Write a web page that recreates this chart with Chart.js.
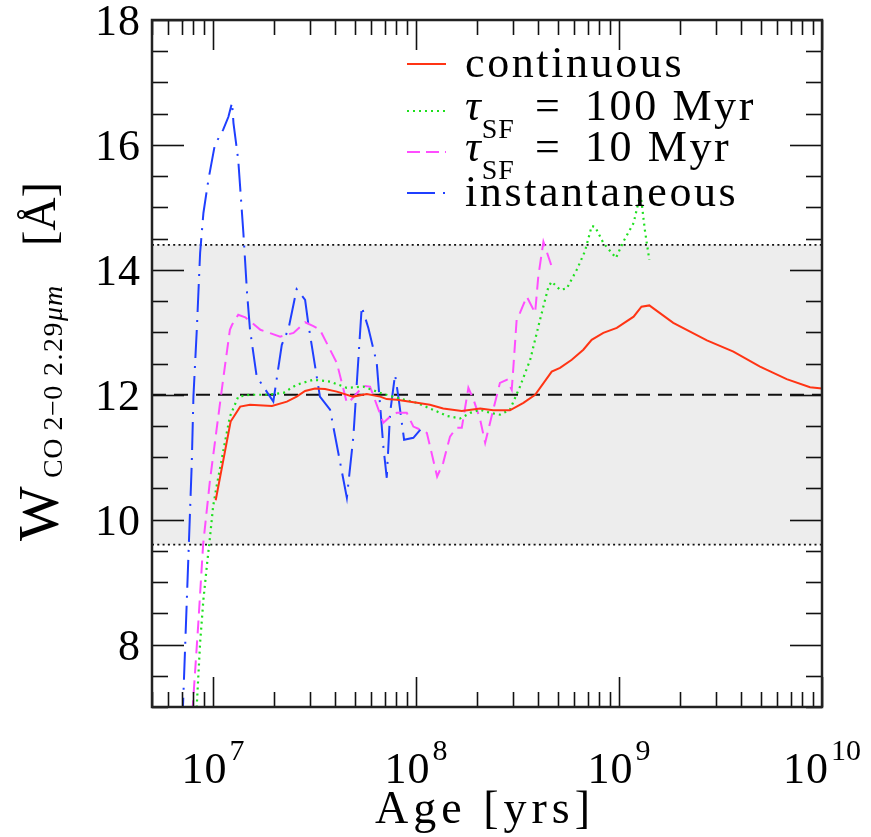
<!DOCTYPE html>
<html><head><meta charset="utf-8">
<script src="https://cdn.jsdelivr.net/npm/chart.js"></script>
<style>html,body{margin:0;padding:0;background:#fff;}#wrap{width:871px;height:837px;}</style>
</head><body><div id="wrap"><canvas id="c" width="871" height="837"></canvas></div>
<script>
// ---- data (age in yr, W in Angstrom) ----
const continuousAge = [1.03e7,1.22e7,1.36e7,1.52e7,1.95e7,2.31e7,2.58e7,2.84e7,3.18e7,3.56e7,4.07e7,4.89e7,5.72e7,6.65e7,7.17e7,8.04e7,1.01e8,1.17e8,1.36e8,1.68e8,2.07e8,2.40e8,2.90e8,3.38e8,3.86e8,4.66e8,5.12e8,5.85e8,6.67e8,7.33e8,8.37e8,9.75e8,1.18e9,1.29e9,1.41e9,1.85e9,2.71e9,3.66e9,4.95e9,6.70e9,8.73e9,1.0e10];
const continuousW   = [10.31,11.57,11.81,11.84,11.82,11.89,11.97,12.06,12.10,12.09,12.05,11.97,12.01,11.97,11.93,11.92,11.87,11.84,11.78,11.74,11.78,11.75,11.75,11.87,12.00,12.37,12.43,12.56,12.72,12.88,12.99,13.07,13.25,13.41,13.43,13.15,12.87,12.69,12.45,12.25,12.12,12.10];

const tau100Age = [8.25e6,8.32e6,8.63e6,8.96e6,9.31e6,9.66e6,1.0e7,1.04e7,1.15e7,1.21e7,1.33e7,1.52e7,1.84e7,2.22e7,2.58e7,3.12e7,3.77e7,4.56e7,5.50e7,6.65e7,8.04e7,1.01e8,1.27e8,1.42e8,1.65e8,1.85e8,2.07e8,2.32e8,2.59e8,2.90e8,3.25e8,3.65e8,4.08e8,4.49e8,4.66e8,5.12e8,5.52e8,6.19e8,6.80e8,7.33e8,7.62e8,8.37e8,9.66e8,1.05e9,1.18e9,1.27e9,1.29e9,1.34e9,1.41e9];
const tau100W   = [6.8,7.06,8.03,8.72,9.25,9.73,10.21,10.53,11.28,11.65,11.97,12.00,12.00,12.03,12.16,12.24,12.21,12.11,12.13,12.03,11.95,11.87,11.73,11.66,11.62,11.71,11.76,11.71,11.68,11.76,12.13,12.56,13.20,13.73,13.81,13.68,13.70,14.00,14.30,14.70,14.69,14.43,14.19,14.45,14.75,15.20,15.10,14.64,14.16];

const tau10Age = [7.90e6,8.44e6,8.93e6,9.66e6,1.04e7,1.12e7,1.21e7,1.24e7,1.33e7,1.44e7,1.71e7,2.14e7,2.49e7,2.84e7,3.12e7,3.36e7,4.07e7,4.56e7,4.73e7,5.50e7,5.93e7,6.90e7,7.45e7,8.04e7,9.0e7,9.70e7,1.05e8,1.13e8,1.27e8,1.36e8,1.47e8,1.58e8,1.68e8,1.81e8,1.92e8,2.07e8,2.19e8,2.40e8,2.59e8,2.80e8,2.96e8,3.01e8,3.13e8,3.25e8,3.51e8,3.86e8,4.0e8,4.24e8,4.66e8];
const tau10W   = [6.9,8.3,9.6,10.64,11.44,12.24,13.04,13.12,13.28,13.24,13.04,12.93,12.99,13.16,13.10,13.04,12.51,11.87,11.90,12.14,12.13,11.55,11.65,11.71,11.71,11.49,11.44,11.39,10.69,10.91,11.33,11.47,11.47,12.11,11.92,11.60,11.23,11.76,12.19,12.24,12.08,12.40,13.20,13.31,13.57,13.31,13.89,14.45,14.05];

const instAge = [7.05e6,7.85e6,8.0e6,8.32e6,8.63e6,8.96e6,9.48e6,1.02e7,1.12e7,1.19e7,1.24e7,1.26e7,1.33e7,1.41e7,1.47e7,1.52e7,1.64e7,1.98e7,2.18e7,2.35e7,2.58e7,2.84e7,2.95e7,3.36e7,3.77e7,4.56e7,4.91e7,5.40e7,5.82e7,6.40e7,6.90e7,7.17e7,7.45e7,7.88e7,8.18e7,8.73e7,9.70e7,1.05e8];
const instW   = [6.7,10.9,11.97,13.07,14.27,14.91,15.44,16.0,16.24,16.45,16.68,16.35,15.76,14.59,13.63,13.04,12.29,11.89,12.8,13.05,13.69,13.52,13.12,11.97,11.76,10.35,11.33,13.41,13.07,12.51,11.17,10.67,11.71,12.32,11.97,11.28,11.31,11.44];

const ageRange = [5e6, 1e10];
const wRange = [7, 18];
const bandLimits = [9.6, 14.4];
const refLevel = 12;
const xTickValues = [1e7, 1e8, 1e9, 1e10];
const xTickExponents = ['7', '8', '9', '10'];
const yTickValues = [8, 10, 12, 14, 16, 18];
const seriesNames = ['continuous', '100 Myr', '10 Myr', 'instantaneous'];
const seriesColors = ['#ff3414', '#1ee01e', '#ff4dff', '#1f3fff'];

function pts(a, w) { return a.map((x, i) => ({x: x, y: w[i]})); }
const flat = v => [{x: ageRange[0], y: v}, {x: ageRange[1], y: v}];

const FONT = '"Liberation Serif", "DejaVu Serif", serif';
function txt(ctx, s, x, y, size, o) {
  o = o || {};
  ctx.save();
  ctx.font = (o.italic ? 'italic ' : '') + size + 'px ' + FONT;
  ctx.letterSpacing = (o.ls || 0) + 'px';
  ctx.textAlign = o.align || 'left';
  ctx.textBaseline = 'alphabetic';
  ctx.fillStyle = '#000';
  ctx.fillText(s, x, y);
  const w = ctx.measureText(s).width;
  ctx.restore();
  return w;
}
function tw(ctx, s, size, o) {
  o = o || {};
  ctx.save();
  ctx.font = (o.italic ? 'italic ' : '') + size + 'px ' + FONT;
  ctx.letterSpacing = (o.ls || 0) + 'px';
  const w = ctx.measureText(s).width;
  ctx.restore();
  return w;
}
function line(ctx, x1, y1, x2, y2) { ctx.beginPath(); ctx.moveTo(x1, y1); ctx.lineTo(x2, y2); ctx.stroke(); }
function rotText(ctx, s, bx, by, size, o) {
  ctx.save();
  ctx.translate(bx, by);
  ctx.rotate(-Math.PI / 2);
  const w = txt(ctx, s, 0, 0, size, o);
  ctx.restore();
  return w;
}

const decor = {
  id: 'decor',
  afterDatasetsDraw(chart) {
    const ctx = chart.ctx, a = chart.chartArea, xs = chart.scales.x, ys = chart.scales.y;
    ctx.save();
    ctx.strokeStyle = '#111';
    ctx.lineWidth = 1.6;
    for (let e = 6; e <= 10; e++) {
      for (let m = 1; m <= 9; m++) {
        const v = m * Math.pow(10, e);
        if (v < ageRange[0] - 1 || v > ageRange[1] + 1) continue;
        const px = Math.round(xs.getPixelForValue(v)) + 0.5;
        const len = m === 1 ? 30 : 15;
        line(ctx, px, a.bottom, px, a.bottom - len);
        line(ctx, px, a.top, px, a.top + len);
      }
    }
    for (let k = 0; k <= (wRange[1] - wRange[0]) * 2; k++) {
      const v = wRange[0] + k * 0.5;
      const py = Math.round(ys.getPixelForValue(v)) + 0.5;
      const len = (v % 2 === 0) ? 32 : 16;
      line(ctx, a.left, py, a.left + len, py);
      line(ctx, a.right, py, a.right - len, py);
    }
    ctx.lineWidth = 2.5;
    ctx.strokeStyle = '#222';
    ctx.strokeRect(a.left, a.top, a.right - a.left, a.bottom - a.top);
    ctx.restore();
  },
  afterDraw(chart) {
    const ctx = chart.ctx, xs = chart.scales.x, ys = chart.scales.y;
    yTickValues.forEach(v => {
      const py = ys.getPixelForValue(v);
      txt(ctx, String(v), 141, py + 15, 44, {align: 'right', ls: 1});
    });
    xTickValues.forEach((v, i) => {
      const px = xs.getPixelForValue(v);
      const w1 = tw(ctx, '10', 44, {ls: 1});
      const w2 = tw(ctx, xTickExponents[i], 30);
      const x0 = px - (w1 + w2 + 2) / 2;
      txt(ctx, '10', x0, 783, 44, {ls: 1});
      txt(ctx, xTickExponents[i], x0 + w1 + 2, 760, 30);
    });
    txt(ctx, 'Age [yrs]', 375, 823, 46, {ls: 5});
    // y title, rotated, reading bottom to top
    rotText(ctx, 'W', 58, 541, 58);
    rotText(ctx, 'CO 2\u22120', 62, 478, 28, {ls: 0.5});
    const w229 = rotText(ctx, '2.29', 62, 376, 28, {ls: 1.5});
    rotText(ctx, '\u03bcm', 62, 376 - w229, 28, {italic: true, ls: 1});
    rotText(ctx, '[\u00c5]', 55, 246, 46);
    // legend
    const rows = [{ly: 64, by: 77}, {ly: 111, by: 120}, {ly: 152, by: 161}, {ly: 193, by: 206}];
    const dashes = [[], [2, 4], [13, 6], [28, 8, 2, 8]];
    rows.forEach((r, i) => {
      ctx.save();
      ctx.strokeStyle = seriesColors[i];
      ctx.lineWidth = 2;
      ctx.setLineDash(dashes[i]);
      line(ctx, 407, r.ly, 446, r.ly);
      ctx.restore();
      if (i === 0 || i === 3) {
        txt(ctx, seriesNames[i], 465, r.by, 44, {ls: 2.6});
      } else {
        const wt = txt(ctx, '\u03c4', 465, r.by, 44, {italic: true});
        txt(ctx, 'SF', 465 + wt + 1, r.by + 18, 28, {ls: 1});
        txt(ctx, '=', 535, r.by, 44);
        txt(ctx, seriesNames[i], 585, r.by, 44, {ls: 2.6});
      }
    });
  }
};

new Chart(document.getElementById('c'), {
  type: 'line',
  data: {
    datasets: [
      {label: 'band top', data: flat(bandLimits[1]), borderColor: '#111', borderWidth: 1.8, borderDash: [2, 3.3], fill: 1, backgroundColor: '#ededed', order: 10},
      {label: 'band bottom', data: flat(bandLimits[0]), borderColor: '#111', borderWidth: 1.8, borderDash: [2, 3.3], fill: false, order: 10},
      {label: 'reference', data: flat(refLevel), borderColor: '#111', borderWidth: 2, borderDash: [14, 8], fill: false, order: 9},
      {label: 'instantaneous', data: pts(instAge, instW), borderColor: seriesColors[3], borderWidth: 2, borderDash: [28, 8, 2, 8], fill: false, order: 4},
      {label: 'tau10', data: pts(tau10Age, tau10W), borderColor: seriesColors[2], borderWidth: 2, borderDash: [13, 7], fill: false, order: 3},
      {label: 'tau100', data: pts(tau100Age, tau100W), borderColor: seriesColors[1], borderWidth: 2.2, borderDash: [2, 4], fill: false, order: 2},
      {label: 'continuous', data: pts(continuousAge, continuousW), borderColor: seriesColors[0], borderWidth: 2, fill: false, order: 1}
    ]
  },
  options: {
    responsive: false,
    animation: false,
    devicePixelRatio: 1,
    layout: {padding: {left: 152, right: 49, top: 20, bottom: 130}},
    elements: {point: {radius: 0}, line: {tension: 0}},
    scales: {
      x: {type: 'logarithmic', min: ageRange[0], max: ageRange[1], display: false},
      y: {type: 'linear', min: wRange[0], max: wRange[1], display: false}
    },
    plugins: {legend: {display: false}, tooltip: {enabled: false}, filler: {drawTime: 'beforeDatasetsDraw'}}
  },
  plugins: [decor]
});
</script>
</body></html>
